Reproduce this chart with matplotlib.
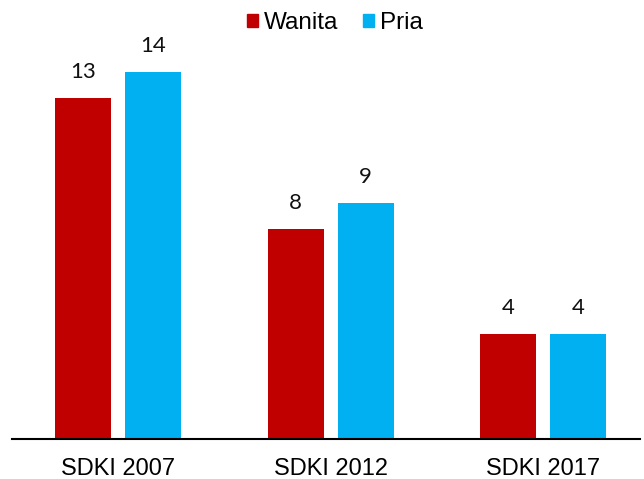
import numpy as np
import matplotlib.pyplot as plt
from matplotlib.patches import Patch

# dati
categorie = ["SDKI 2007", "SDKI 2012", "SDKI 2017"]
wanita = [13, 8, 4]
pria = [14, 9, 4]
serie = ["Wanita", "Pria"]

col_w = "#C00000"
col_p = "#00B0F0"

fig = plt.figure(figsize=(6.44, 4.79), dpi=100)
ax = fig.add_axes([12/644, 40/479, 628/644, 399/479])

x = np.arange(len(categorie))
w = 0.2635
off = 0.1647
b1 = ax.bar(x - off, wanita, w, color=col_w)
b2 = ax.bar(x + off, pria, w, color=col_p)

for bars, vals in [(b1, wanita), (b2, pria)]:
    for b, v in zip(bars, vals):
        ax.text(b.get_x() + b.get_width()/2, v + 0.62, str(v), ha="center", va="bottom",
                fontsize=16, family="Lato", color="#111111")

ax.set_xlim(-0.4988, 2.456)
ax.set_ylim(0, 15.23)
ax.set_yticks([])
ax.set_xticks(x)
ax.set_xticklabels(categorie, fontsize=17, family="Liberation Sans")
ax.tick_params(axis="x", length=0, pad=14)
for s in ["top", "right", "left"]:
    ax.spines[s].set_visible(False)
ax.spines["bottom"].set_linewidth(1.5)

handles = [Patch(color=col_w), Patch(color=col_p)]
fig.legend(handles, serie, loc="upper center", bbox_to_anchor=(0.52, 1.02), ncol=2, frameon=False,
           prop={"family": "Liberation Sans", "size": 17.5}, handlelength=0.45, handleheight=0.45,
           handletextpad=0.25, columnspacing=1.0)

plt.savefig("out.png", dpi=100)
